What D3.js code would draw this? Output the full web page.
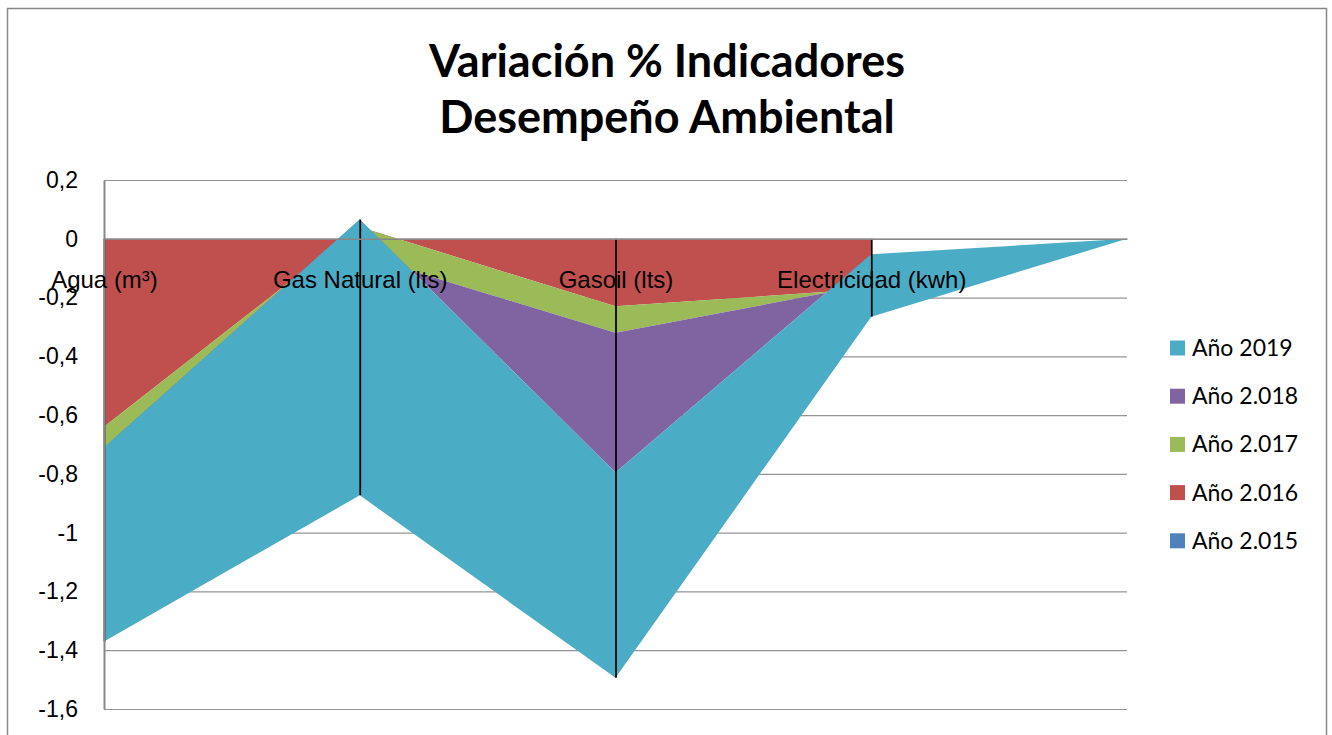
<!DOCTYPE html>
<html>
<head>
<meta charset="utf-8">
<script src="https://cdn.jsdelivr.net/npm/d3@7"></script>
<style>
  body { margin: 0; background: #fff; }
  svg { font-family: Lato, 'Open Sans', sans-serif; }
</style>
</head>
<body>
<div id="chart"></div>
<script>
const categories = ['Agua (m³)', 'Gas Natural (lts)', 'Gasoil (lts)', 'Electricidad (kwh)', ''];
const seriesNames = ['Año 2.015', 'Año 2.016', 'Año 2.017', 'Año 2.018', 'Año 2019'];
// variation per year and indicator (2015-2018 only have the four indicators)
const v2015 = [0, 0, 0, 0];
const v2016 = [-0.64, 0.04, -0.23, -0.17];
const v2017 = [-0.07, -0.095, -0.09, 0.015];
const v2018 = [0, 0.121, -0.475, 0.102];
const v2019 = [-0.66, -0.939, -0.699, -0.212, 0];
const colors = ['#4F81BD', '#C0504D', '#9BBB59', '#8064A2', '#4BACC6'];
const yTicks = [0.2, 0, -0.2, -0.4, -0.6, -0.8, -1, -1.2, -1.4, -1.6];

const width = 1332;
const height = 735;
const margin = { top: 180, right: 205, bottom: 26, left: 104 };

const allValues = [v2015, v2016, v2017, v2018, v2019];
const rows = categories.map((c, i) => {
  const row = { cat: c };
  seriesNames.forEach((s, j) => { row[s] = allValues[j][i]; });
  return row;
});

const svg = d3.select('#chart')
  .append('svg')
  .attr('width', width)
  .attr('height', height);

// outer chart border
svg.append('rect')
  .attr('x', 7.5).attr('y', 8.5)
  .attr('width', 1319).attr('height', 760)
  .attr('fill', 'none')
  .attr('stroke', '#888')
  .attr('stroke-width', 1.5);

const x = d3.scalePoint()
  .domain(categories.map((c, i) => i))
  .range([margin.left, width - margin.right]);

const y = d3.scaleLinear()
  .domain([-1.6, 0.2])
  .range([height - margin.bottom, margin.top]);

const fmt = d3.formatLocale({ decimal: ',', thousands: '.', grouping: [3], currency: ['', ''], minus: '-' }).format('.1~f');

// gridlines
svg.append('g')
  .attr('transform', `translate(${margin.left},0)`)
  .call(d3.axisLeft(y).tickValues(yTicks).tickSize(-(width - margin.right - margin.left)).tickFormat(''))
  .call(g => g.select('.domain').remove())
  .call(g => g.selectAll('line').attr('stroke', '#959595').attr('stroke-width', 1.2));

const stack = d3.stack()
  .keys(seriesNames)
  .value((d, key) => d[key] ?? 0);
const stacked = stack(rows);

const area = d3.area()
  .defined(d => d.data[d.key] !== undefined)
  .x((d, i) => x(i))
  .y0(d => y(d[0]))
  .y1(d => y(d[1]));

stacked.forEach((s, j) => {
  s.forEach(p => { p.key = s.key; });
  svg.append('path')
    .datum(s)
    .attr('fill', colors[j])
    .attr('d', area);
});

// drop lines
const drops = categories.map((c, i) => {
  const vals = [0];
  stacked.forEach(s => { if (s[i].data[s.key] !== undefined) vals.push(s[i][1]); });
  return { i, top: d3.max(vals), bottom: d3.min(vals) };
});
svg.append('g')
  .selectAll('line')
  .data(drops)
  .join('line')
  .attr('x1', d => x(d.i) + 0.5).attr('x2', d => x(d.i) + 0.5)
  .attr('y1', d => y(d.top)).attr('y2', d => y(d.bottom))
  .attr('stroke', '#000')
  .attr('stroke-width', 1.75);

// value axis
svg.append('g')
  .attr('transform', `translate(${margin.left},0)`)
  .call(d3.axisLeft(y).tickValues(yTicks).tickSize(0).tickPadding(26).tickFormat(fmt))
  .call(g => g.select('.domain').attr('stroke', '#888').attr('stroke-width', 2))
  .call(g => g.selectAll('text').attr('font-size', 23).attr('fill', '#000'));

// category axis at zero
svg.append('g')
  .attr('transform', `translate(0,${y(0)})`)
  .call(d3.axisBottom(x).tickSize(0).tickPadding(32).tickFormat(i => categories[i]))
  .call(g => g.select('.domain').attr('stroke', '#888').attr('stroke-width', 1.5))
  .call(g => g.selectAll('text').attr('font-size', 24).attr('fill', '#000'));

// title
const title = svg.append('text')
  .attr('text-anchor', 'middle')
  .attr('font-size', 45)
  .attr('font-weight', 'bold')
  .attr('fill', '#000');
title.append('tspan').attr('x', 667).attr('y', 77).text('Variación % Indicadores');
title.append('tspan').attr('x', 667).attr('y', 133).text('Desempeño Ambiental');

// legend (reverse order)
const legend = svg.append('g')
  .selectAll('g')
  .data(seriesNames.map((s, j) => ({ s, c: colors[j] })).reverse())
  .join('g')
  .attr('transform', (d, k) => `translate(1170,${348 + k * 48.2})`);
legend.append('rect')
  .attr('x', 0).attr('y', -7.5)
  .attr('width', 15).attr('height', 15)
  .attr('fill', d => d.c);
legend.append('text')
  .attr('x', 22).attr('dy', '0.35em')
  .attr('font-size', 23)
  .text(d => d.s);
</script>
</body>
</html>
